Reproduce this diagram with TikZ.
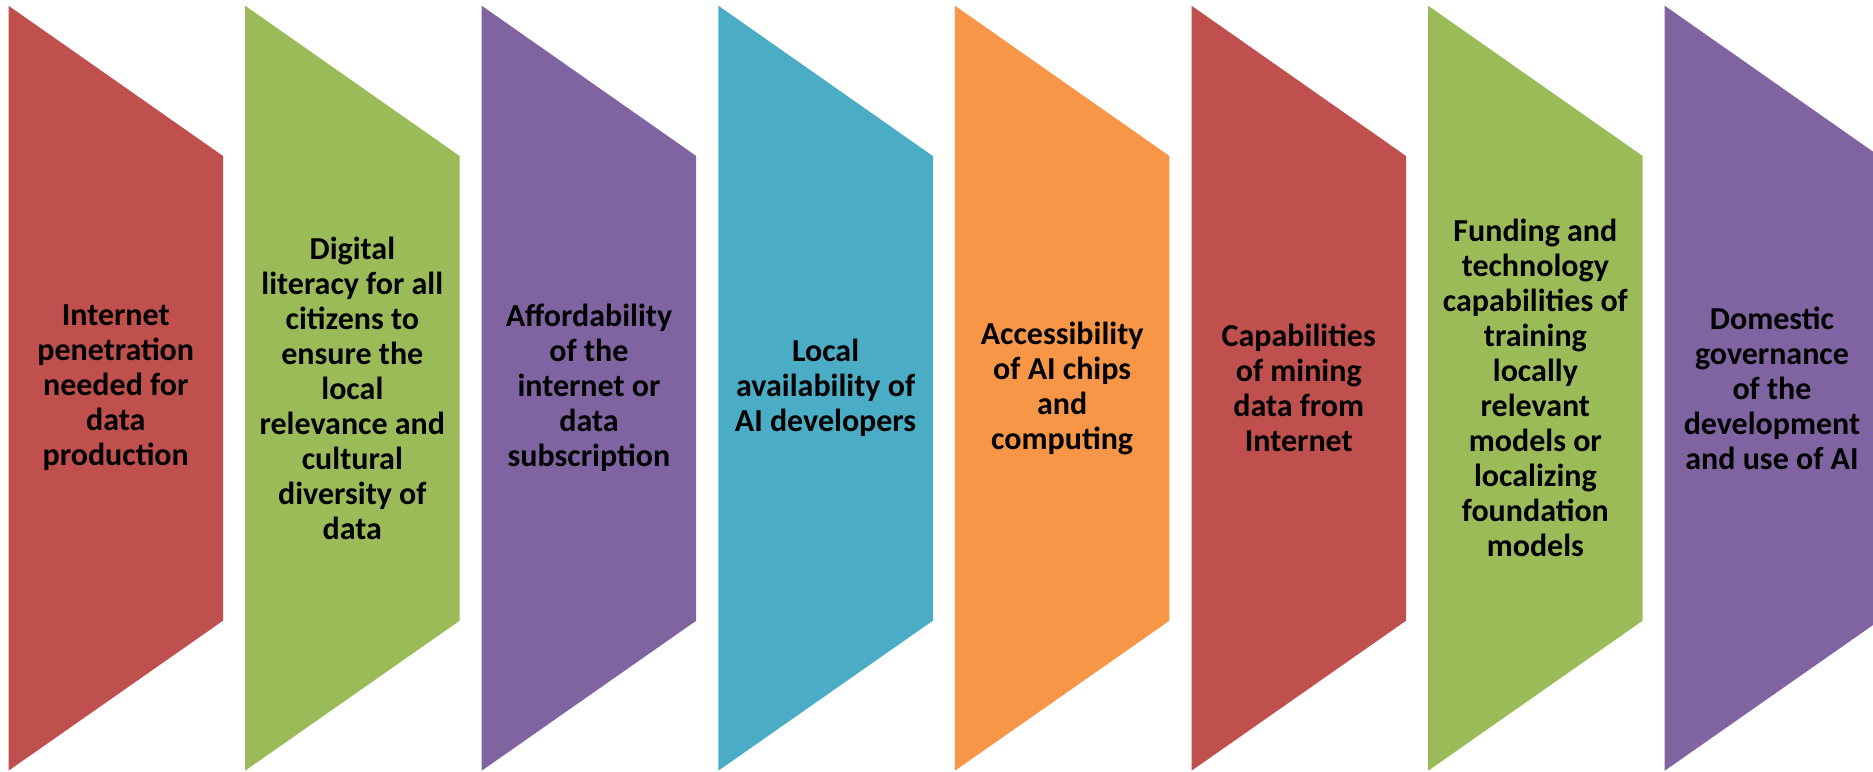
\documentclass[tikz,border=0pt]{standalone}
\usepackage{fontspec}
\setmainfont{Carlito}
\definecolor{cred}{HTML}{C0504D}
\definecolor{cgreen}{HTML}{9BBB59}
\definecolor{cpurple}{HTML}{8064A2}
\definecolor{cteal}{HTML}{4BACC6}
\definecolor{corange}{HTML}{F79646}
\begin{document}
\begin{tikzpicture}[x=0.5pt,y=-0.5pt,
  lbl/.style={align=center,font=\bfseries\fontsize{16}{17.5}\selectfont,text=black,inner sep=0pt}]
\useasboundingbox (0,0) rectangle (1873,771);
\foreach \i/\c in {0/cred,1/cgreen,2/cpurple,3/cteal,4/corange,5/cred,6/cgreen,7/cpurple}{
  \pgfmathsetmacro{\xa}{8.5+236.6*\i}
  \pgfmathsetmacro{\xb}{\xa+214.5}
  \fill[\c] (\xa,5.7) -- (\xb,156) -- (\xb,620.7) -- (\xa,770.7) -- cycle;
}
\node[lbl] (t1) at (115.75,388) {Internet\\penetration\\needed for\\data\\production};
\node[lbl] (t2) at (352.35,388) {Digital\\literacy for all\\citizens to\\ensure the\\local\\relevance and\\cultural\\diversity of\\data};
\node[lbl] (t3) at (588.95,388) {Affordability\\of the\\internet or\\data\\subscription};
\node[lbl] (t4) at (825.55,388) {Local\\availability of\\AI developers};
\node[lbl] (t5) at (1062.15,388) {Accessibility\\of AI chips\\and\\computing};
\node[lbl] (t6) at (1298.75,388) {Capabilities\\of mining\\data from\\Internet};
\node[lbl] (t7) at (1535.35,388) {Funding and\\technology\\capabilities of\\training\\locally\\relevant\\models or\\localizing\\foundation\\models};
\node[lbl] (t8) at (1771.95,388) {Domestic\\governance\\of the\\development\\and use of AI};
\end{tikzpicture}
\end{document}
